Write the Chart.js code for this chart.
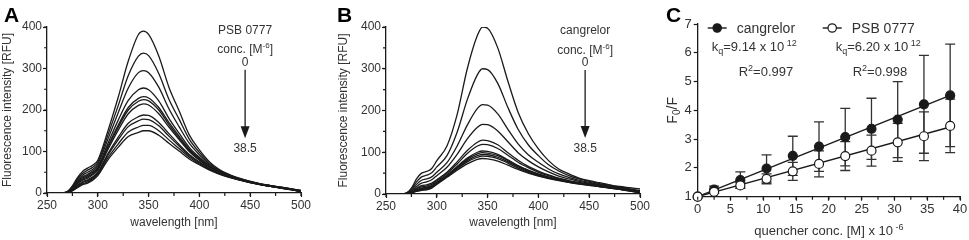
<!DOCTYPE html>
<html>
<head>
<meta charset="utf-8">
<script src="https://cdn.jsdelivr.net/npm/chart.js@4.4.1/dist/chart.umd.min.js"></script>
<style>
  html, body { margin: 0; padding: 0; background: #fff; }
  body { width: 969px; height: 240px; position: relative; overflow: hidden; }
  canvas { position: absolute; top: 0; }
  #chartA { left: 0; }
  #chartB { left: 320px; }
  #chartC { left: 640px; }
</style>
</head>
<body>
<canvas id="chartA" width="330" height="240"></canvas>
<canvas id="chartB" width="340" height="240"></canvas>
<canvas id="chartC" width="329" height="240"></canvas>
<script>
// ---- Data ----
const wavelengths = [265, 270, 275, 280, 285, 290, 295, 300, 310, 320, 330, 340, 345, 350,
                     360, 370, 380, 390, 400, 410, 420, 430, 440, 450, 460, 470, 480, 490, 500];

// Panel A: emission spectra with PSB 0777, one row per concentration (0 -> 38.5)
const psbSpectra = [
  [0, 3, 17, 37, 52, 60, 67, 79, 150, 230, 318, 382, 390, 382, 330, 255, 198, 140, 104, 75, 56, 44, 35, 28, 22, 18, 14, 10, 6],
  [0, 3, 15, 34, 47, 55, 62, 74, 140, 210, 283, 330, 337, 331, 288, 226, 178, 130, 98, 72, 54, 43, 34, 28, 22, 18, 14, 10, 6],
  [0, 3, 14, 31, 43, 50, 57, 69, 130, 193, 253, 290, 295, 290, 255, 203, 160, 120, 92, 69, 53, 42, 34, 27, 22, 17, 14, 10, 5],
  [0, 2, 12, 28, 39, 45, 53, 64, 120, 175, 223, 249, 253, 249, 222, 180, 144, 110, 86, 66, 51, 41, 33, 27, 21, 17, 13, 9, 5],
  [0, 2, 11, 26, 36, 42, 50, 60, 113, 163, 206, 228, 232, 229, 206, 170, 137, 106, 83, 64, 50, 40, 33, 27, 21, 17, 13, 9, 5],
  [0, 2, 10, 24, 33, 39, 47, 58, 110, 158, 200, 221, 225, 222, 200, 165, 133, 103, 81, 63, 50, 40, 33, 26, 21, 17, 13, 9, 4],
  [0, 2, 9, 22, 31, 36, 44, 55, 105, 151, 191, 211, 215, 212, 191, 159, 129, 100, 79, 62, 49, 40, 32, 26, 21, 16, 13, 9, 4],
  [0, 1, 8, 19, 27, 32, 39, 50, 95, 134, 168, 184, 188, 187, 170, 143, 117, 93, 75, 59, 47, 39, 32, 26, 20, 16, 12, 9, 4],
  [0, 1, 7, 17, 25, 30, 37, 48, 91, 128, 160, 174, 178, 177, 162, 137, 113, 90, 73, 58, 47, 38, 31, 25, 20, 16, 12, 8, 4],
  [0, 1, 6, 15, 22, 27, 34, 45, 85, 118, 147, 159, 163, 163, 150, 128, 107, 86, 70, 57, 46, 38, 31, 25, 20, 16, 12, 8, 3],
  [0, 1, 5, 13, 20, 24, 31, 42, 80, 110, 136, 146, 150, 150, 139, 120, 101, 82, 68, 55, 45, 37, 31, 25, 20, 16, 12, 8, 3]
];

// Panel B: emission spectra with cangrelor
const cangrelorSpectra = [
  [0, 2, 14, 36, 50, 54, 61, 80, 115, 190, 300, 380, 400, 397, 350, 270, 196, 145, 108, 80, 60, 48, 38, 32, 27, 22, 18, 15, 12],
  [0, 2, 11, 29, 41, 45, 51, 65, 92, 148, 226, 286, 300, 298, 265, 207, 155, 118, 92, 70, 55, 44, 36, 30, 25, 21, 17, 12, 8],
  [0, 2, 9, 23, 33, 36, 41, 52, 75, 115, 165, 205, 214, 213, 192, 155, 120, 94, 76, 60, 48, 40, 33, 28, 23, 19, 15, 11, 7],
  [0, 1, 7, 18, 26, 29, 34, 44, 64, 95, 132, 160, 167, 166, 151, 125, 99, 80, 65, 53, 43, 36, 30, 26, 22, 18, 14, 10, 6],
  [0, 1, 5, 14, 20, 22, 26, 34, 52, 77, 104, 124, 129, 128, 118, 99, 81, 66, 55, 46, 38, 32, 27, 24, 20, 17, 13, 9, 5],
  [0, 1, 5, 12, 17, 19, 23, 31, 49, 72, 97, 115, 119, 118, 109, 93, 76, 63, 52, 44, 37, 31, 27, 23, 20, 16, 13, 9, 5],
  [0, 1, 4, 10, 14, 16, 20, 28, 45, 66, 86, 100, 103, 102, 95, 82, 68, 57, 48, 41, 35, 30, 26, 22, 19, 16, 12, 8, 4],
  [0, 1, 4, 9, 13, 15, 19, 27, 44, 64, 83, 96, 99, 98, 92, 80, 67, 56, 47, 40, 34, 29, 25, 22, 19, 15, 12, 8, 4],
  [0, 1, 3, 8, 11, 13, 17, 26, 43, 62, 80, 92, 95, 94, 88, 77, 65, 54, 46, 39, 34, 29, 25, 22, 18, 15, 12, 8, 4],
  [0, 0, 3, 7, 10, 12, 16, 25, 42, 60, 77, 88, 91, 90, 85, 74, 62, 52, 44, 38, 33, 28, 24, 21, 18, 15, 11, 7, 3],
  [0, 0, 2, 6, 9, 10, 14, 23, 40, 57, 72, 83, 85, 84, 79, 69, 59, 50, 43, 37, 32, 28, 24, 21, 18, 14, 11, 7, 3]
];

// Panel C: Stern-Volmer plot
const quencherConc = [0, 2.5, 6.5, 10.5, 14.5, 18.5, 22.5, 26.5, 30.5, 34.5, 38.5];
const cangrelorF0F = [1.00, 1.25, 1.58, 1.98, 2.42, 2.74, 3.07, 3.36, 3.68, 4.21, 4.52];
const cangrelorSD  = [0, 0.12, 0.28, 0.47, 0.68, 0.86, 1.00, 1.06, 1.32, 1.70, 1.78];
const psbF0F       = [1.00, 1.17, 1.39, 1.62, 1.88, 2.14, 2.41, 2.60, 2.89, 3.10, 3.46];
const psbSD        = [0, 0.05, 0.10, 0.17, 0.31, 0.45, 0.50, 0.54, 0.66, 0.85, 0.93];
const fitRange = [0, 38.5];
const cangrelorFit = [1.0, 4.52];
const psbFit = [1.0, 3.42];

// ---- Common style ----
const family = "'Liberation Sans', Arial, sans-serif";
const ink = '#1a1a1a';
const textInk = '#333';

Chart.defaults.font.family = family;
Chart.defaults.color = textInk;
Chart.defaults.animation = false;

// draws runs of text with different sizes (sub/superscripts)
const richText = (ctx, runs, x, y, align = 'left') => {
  let width = 0;
  for (const [t, size] of runs) {
    ctx.font = `${size}px ${family}`;
    width += ctx.measureText(t).width;
  }
  let cx = align === 'center' ? x - width / 2 : x;
  ctx.textAlign = 'left';
  ctx.textBaseline = 'alphabetic';
  for (const [t, size, shift = 0] of runs) {
    ctx.font = `${size}px ${family}`;
    ctx.fillText(t, cx, y - shift);
    cx += ctx.measureText(t).width;
  }
};

// Plugin: small ticks between the labelled ones
const minorTicks = {
  id: 'minorTicks',
  afterDraw(chart, args, opts) {
    const {ctx, chartArea: a} = chart;
    ctx.save();
    ctx.strokeStyle = ink;
    ctx.lineWidth = 1.2;
    ctx.beginPath();
    if (opts.x) {
      const s = chart.scales.x;
      for (let v = s.min; v <= s.max + 1e-9; v += opts.x) {
        const px = s.getPixelForValue(v);
        ctx.moveTo(px, a.bottom); ctx.lineTo(px, a.bottom + 3);
      }
    }
    if (opts.y) {
      const s = chart.scales.y;
      for (let v = s.min; v <= s.max + 1e-9; v += opts.y) {
        const py = s.getPixelForValue(v);
        ctx.moveTo(a.left - 3, py); ctx.lineTo(a.left, py);
      }
    }
    ctx.stroke();
    ctx.restore();
  }
};

// Plugin: panel letter in the corner
const panelLetter = {
  id: 'panelLetter',
  afterDraw(chart, args, opts) {
    const ctx = chart.ctx;
    ctx.save();
    ctx.fillStyle = '#000';
    ctx.font = `bold 21px ${family}`;
    ctx.textAlign = 'left';
    ctx.textBaseline = 'alphabetic';
    ctx.fillText(opts.text, opts.x, 22);
    ctx.restore();
  }
};

// Plugin: "quencher conc." arrow, in data coordinates
const arrowNote = {
  id: 'arrowNote',
  afterDraw(chart, args, o) {
    const {ctx, scales: {x, y}} = chart;
    const px = x.getPixelForValue(o.at);
    ctx.save();
    ctx.fillStyle = textInk;
    richText(ctx, [[o.name, 12]], px, y.getPixelForValue(o.nameY) + 4, 'center');
    richText(ctx, [['conc. [M', 12], ['-6', 8, 5], [']', 12]], px, y.getPixelForValue(o.concY) + 4, 'center');
    richText(ctx, [[o.first, 12]], px, y.getPixelForValue(o.firstY) + 4, 'center');
    richText(ctx, [[o.last, 12]], px, y.getPixelForValue(o.lastY) + 4, 'center');
    const top = y.getPixelForValue(o.from);
    const tip = y.getPixelForValue(o.to);
    ctx.strokeStyle = ink;
    ctx.fillStyle = ink;
    ctx.lineWidth = 1.3;
    ctx.beginPath();
    ctx.moveTo(px, top); ctx.lineTo(px, tip - 10);
    ctx.stroke();
    ctx.beginPath();
    ctx.moveTo(px - 4.5, tip - 12); ctx.lineTo(px + 4.5, tip - 12); ctx.lineTo(px, tip);
    ctx.closePath();
    ctx.fill();
    ctx.restore();
  }
};

// Spectrum chart (panels A and B)
const makeSpectrum = (id, spectra, letter, note, pad, yWidth, xHeight) => {
  const ctx = document.getElementById(id).getContext('2d');
  return new Chart(ctx, {
    type: 'line',
    data: {
      datasets: spectra.map(row => ({
        data: wavelengths.map((w, i) => ({x: w, y: row[i]})),
        borderColor: ink,
        borderWidth: 1.3,
        pointRadius: 0,
        cubicInterpolationMode: 'monotone',
        fill: false
      }))
    },
    options: {
      responsive: false,
      layout: {padding: pad},
      plugins: {
        legend: {display: false},
        tooltip: {enabled: false},
        minorTicks: {x: 25, y: 50},
        panelLetter: letter,
        arrowNote: note
      },
      scales: {
        x: {
          type: 'linear', min: 250, max: 500,
          ticks: {stepSize: 50, font: {size: 12}, padding: 1, maxRotation: 0, autoSkip: false},
          grid: {drawOnChartArea: false, tickLength: 4, tickColor: ink, tickWidth: 1.2},
          border: {color: ink, width: 1.3},
          title: {display: true, text: 'wavelength [nm]', font: {size: 12}, padding: 0},
          afterFit: s => { s.height = xHeight; }
        },
        y: {
          min: 0, max: 400,
          ticks: {stepSize: 100, font: {size: 12}, padding: 1},
          grid: {drawOnChartArea: false, tickLength: 4, tickColor: ink, tickWidth: 1.2},
          border: {color: ink, width: 1.3},
          title: {display: true, text: 'Fluorescence intensity [RFU]', font: {size: 12}, padding: 0},
          afterFit: s => { s.width = yWidth; }
        }
      }
    },
    plugins: [minorTicks, panelLetter, arrowNote]
  });
};

makeSpectrum('chartA', psbSpectra, {text: 'A', x: 4},
  {at: 445, name: 'PSB 0777', nameY: 392, concY: 346, first: '0', firstY: 315, last: '38.5', lastY: 108, from: 297, to: 132},
  {left: 0, right: 29, top: 27, bottom: 10}, 47, 37);

makeSpectrum('chartB', cangrelorSpectra, {text: 'B', x: 17},
  {at: 446, name: 'cangrelor', nameY: 392, concY: 346, first: '0', firstY: 315, last: '38.5', lastY: 110, from: 297, to: 134},
  {left: 16, right: 20, top: 27, bottom: 10}, 50, 36);

// ---- Panel C ----
// Plugin: symmetric SD error bars from dataset.errors
const errorBars = {
  id: 'errorBars',
  beforeDatasetsDraw(chart) {
    const {ctx, scales: {y}} = chart;
    ctx.save();
    ctx.strokeStyle = '#333';
    ctx.lineWidth = 1.3;
    chart.data.datasets.forEach((ds, i) => {
      if (!ds.errors) return;
      chart.getDatasetMeta(i).data.forEach((pt, j) => {
        const sd = ds.errors[j];
        if (!sd) return;
        const v = ds.data[j].y;
        const top = y.getPixelForValue(v + sd);
        const bot = y.getPixelForValue(v - sd);
        ctx.beginPath();
        ctx.moveTo(pt.x, top); ctx.lineTo(pt.x, bot);
        ctx.moveTo(pt.x - 5, top); ctx.lineTo(pt.x + 5, top);
        ctx.moveTo(pt.x - 5, bot); ctx.lineTo(pt.x + 5, bot);
        ctx.stroke();
      });
    });
    ctx.restore();
  }
};

// Plugin: legend, constants and axis titles with sub/superscripts
const quenchNotes = {
  id: 'quenchNotes',
  afterDraw(chart) {
    const {ctx, chartArea: a} = chart;
    ctx.save();
    // legend samples
    const sample = (x0, fill, label) => {
      const yy = a.top + 4;
      ctx.strokeStyle = ink;
      ctx.lineWidth = 1.4;
      ctx.beginPath();
      ctx.moveTo(x0, yy); ctx.lineTo(x0 + 19, yy);
      ctx.stroke();
      ctx.beginPath();
      ctx.arc(x0 + 9.5, yy, 4.2, 0, Math.PI * 2);
      ctx.fillStyle = fill;
      ctx.fill();
      ctx.lineWidth = 1.2;
      ctx.stroke();
      ctx.fillStyle = textInk;
      richText(ctx, [[label, 14]], x0 + 29, yy + 5);
    };
    sample(a.left + 10, ink, 'cangrelor');
    sample(a.left + 125, '#fff', 'PSB 0777');

    ctx.fillStyle = textInk;
    richText(ctx, [['k', 13], ['q', 9, -3], ['=9.14 x 10', 13], [' 12', 9, 5]], a.left + 14, a.top + 27);
    richText(ctx, [['k', 13], ['q', 9, -3], ['=6.20 x 10', 13], [' 12', 9, 5]], a.left + 138, a.top + 27);
    richText(ctx, [['R', 13], ['2', 9, 5], ['=0.997', 13]], a.left + 41, a.top + 52);
    richText(ctx, [['R', 13], ['2', 9, 5], ['=0.998', 13]], a.left + 155, a.top + 52);

    // axis titles
    richText(ctx, [['quencher conc. [M] x 10', 13], [' -6', 9, 5]], (a.left + a.right) / 2, 235, 'center');
    ctx.translate(32, (a.top + a.bottom) / 2);
    ctx.rotate(-Math.PI / 2);
    richText(ctx, [['F', 14], ['0', 10, -3], ['/F', 14]], 0, 5, 'center');
    ctx.restore();
  }
};

const pointsOf = ys => quencherConc.map((c, i) => ({x: c, y: ys[i]}));
const fitOf = ends => fitRange.map((c, i) => ({x: c, y: ends[i]}));

const ctxC = document.getElementById('chartC').getContext('2d');
new Chart(ctxC, {
  type: 'line',
  data: {
    datasets: [
      {label: 'PSB 0777', data: pointsOf(psbF0F), errors: psbSD, showLine: false,
       pointRadius: 4.5, pointBackgroundColor: '#fff', pointBorderColor: ink, pointBorderWidth: 1.2, clip: false},
      {label: 'cangrelor', data: pointsOf(cangrelorF0F), errors: cangrelorSD, showLine: false,
       pointRadius: 4.5, pointBackgroundColor: ink, pointBorderColor: ink, pointBorderWidth: 1.2, clip: false},
      {data: fitOf(psbFit), borderColor: ink, borderWidth: 1.4, pointRadius: 0, clip: false},
      {data: fitOf(cangrelorFit), borderColor: ink, borderWidth: 1.4, pointRadius: 0, clip: false}
    ]
  },
  options: {
    responsive: false,
    layout: {padding: {left: 0, right: 9, top: 24, bottom: 0}},
    plugins: {
      legend: {display: false},
      tooltip: {enabled: false},
      minorTicks: {x: 2.5},
      panelLetter: {text: 'C', x: 26}
    },
    scales: {
      x: {
        type: 'linear', min: 0, max: 40,
        ticks: {stepSize: 5, font: {size: 13}, padding: 1, maxRotation: 0, autoSkip: false},
        grid: {drawOnChartArea: false, tickLength: 4, tickColor: ink, tickWidth: 1.2},
        border: {color: ink, width: 1.3},
        afterFit: s => { s.height = 43.3; }
      },
      y: {
        min: 1, max: 7,
        ticks: {stepSize: 1, font: {size: 13}, padding: 2},
        grid: {drawOnChartArea: false, tickLength: 4, tickColor: ink, tickWidth: 1.2},
        border: {color: ink, width: 1.3},
        afterFit: s => { s.width = 57.7; }
      }
    }
  },
  plugins: [errorBars, minorTicks, panelLetter, quenchNotes]
});
</script>
</body>
</html>
